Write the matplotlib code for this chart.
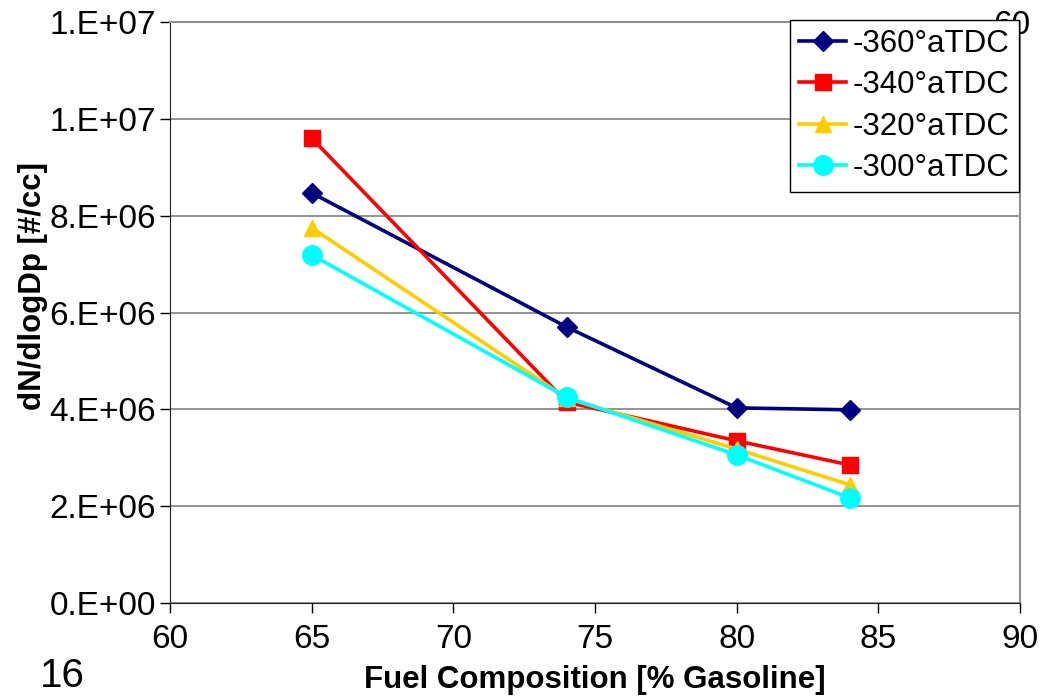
import numpy as np
import matplotlib.pyplot as plt
from matplotlib.ticker import FuncFormatter

plt.rcParams['font.family'] = ['Liberation Sans', 'DejaVu Sans']

fuel = [65, 74, 80, 84]
crank_360 = [8.47e6, 5.70e6, 4.03e6, 3.99e6]
crank_340 = [9.60e6, 4.15e6, 3.35e6, 2.85e6]
crank_320 = [7.75e6, 4.23e6, 3.18e6, 2.44e6]
crank_300 = [7.19e6, 4.25e6, 3.06e6, 2.17e6]
labels = ['-360°aTDC', '-340°aTDC', '-320°aTDC', '-300°aTDC']

fig = plt.figure(figsize=(10.4, 6.96), dpi=100)
ax = fig.add_axes([0.1635, 0.1336, 0.8173, 0.8348])

styles = [('#000080', 'D', 10), ('#ff0000', 's', 11), ('#ffcc00', '^', 12), ('#00ffff', 'o', 14)]
for ys, lab, (c, m, ms) in zip([crank_360, crank_340, crank_320, crank_300], labels, styles):
    ax.plot(fuel, ys, color=c, marker=m, markersize=ms, lw=2.6, label=lab, zorder=3)

ax.set_xlim(60, 90)
ax.set_ylim(0, 1.2e7)
ax.set_xticks(np.arange(60, 91, 5))
ax.set_yticks(np.arange(0, 1.21e7, 2e6))

def sci(v, pos):
    s = '%.0E' % v
    mant, ex = s.split('E')
    return mant + '.E' + ex

ax.yaxis.set_major_formatter(FuncFormatter(sci))
ax.yaxis.grid(True, color='#808080', lw=1.2)
ax.tick_params(labelsize=24, length=7, width=1, colors='black', direction='out')
ax.tick_params(axis='x', pad=8)
ax.tick_params(axis='y', pad=3)
for side in ['top', 'right']:
    ax.spines[side].set_color('#909090')
    ax.spines[side].set_linewidth(1.5)
for side in ['left', 'bottom']:
    ax.spines[side].set_color('#222222')

ax.set_xlabel('Fuel Composition [% Gasoline]', fontsize=22.5, fontweight='bold')
ax.xaxis.set_label_coords(0.5, -0.106)
ax.set_ylabel('dN/dlogDp [#/cc]', fontsize=22.5, fontweight='bold')
ax.yaxis.set_label_coords(-0.144, 0.545)

# stray page label tucked behind the legend box
ax.text(1012 / 1040, 1 - 26 / 696, '60', fontsize=24, ha='center', va='center',
        transform=fig.transFigure, clip_on=False, zorder=5)

leg = ax.legend(loc='upper right', bbox_to_anchor=(0.9985, 1.004), fontsize=22.5, frameon=True,
                fancybox=False, edgecolor='black', framealpha=1, borderpad=0.3,
                handlelength=1.5, handletextpad=0.2, labelspacing=0.36, borderaxespad=0)
leg.get_frame().set_linewidth(1)
leg.set_zorder(10)

fig.text(40 / 1040, 1 - 676 / 696, '16', fontsize=29, ha='left', va='center')

fig.savefig('out.png', dpi=100)
